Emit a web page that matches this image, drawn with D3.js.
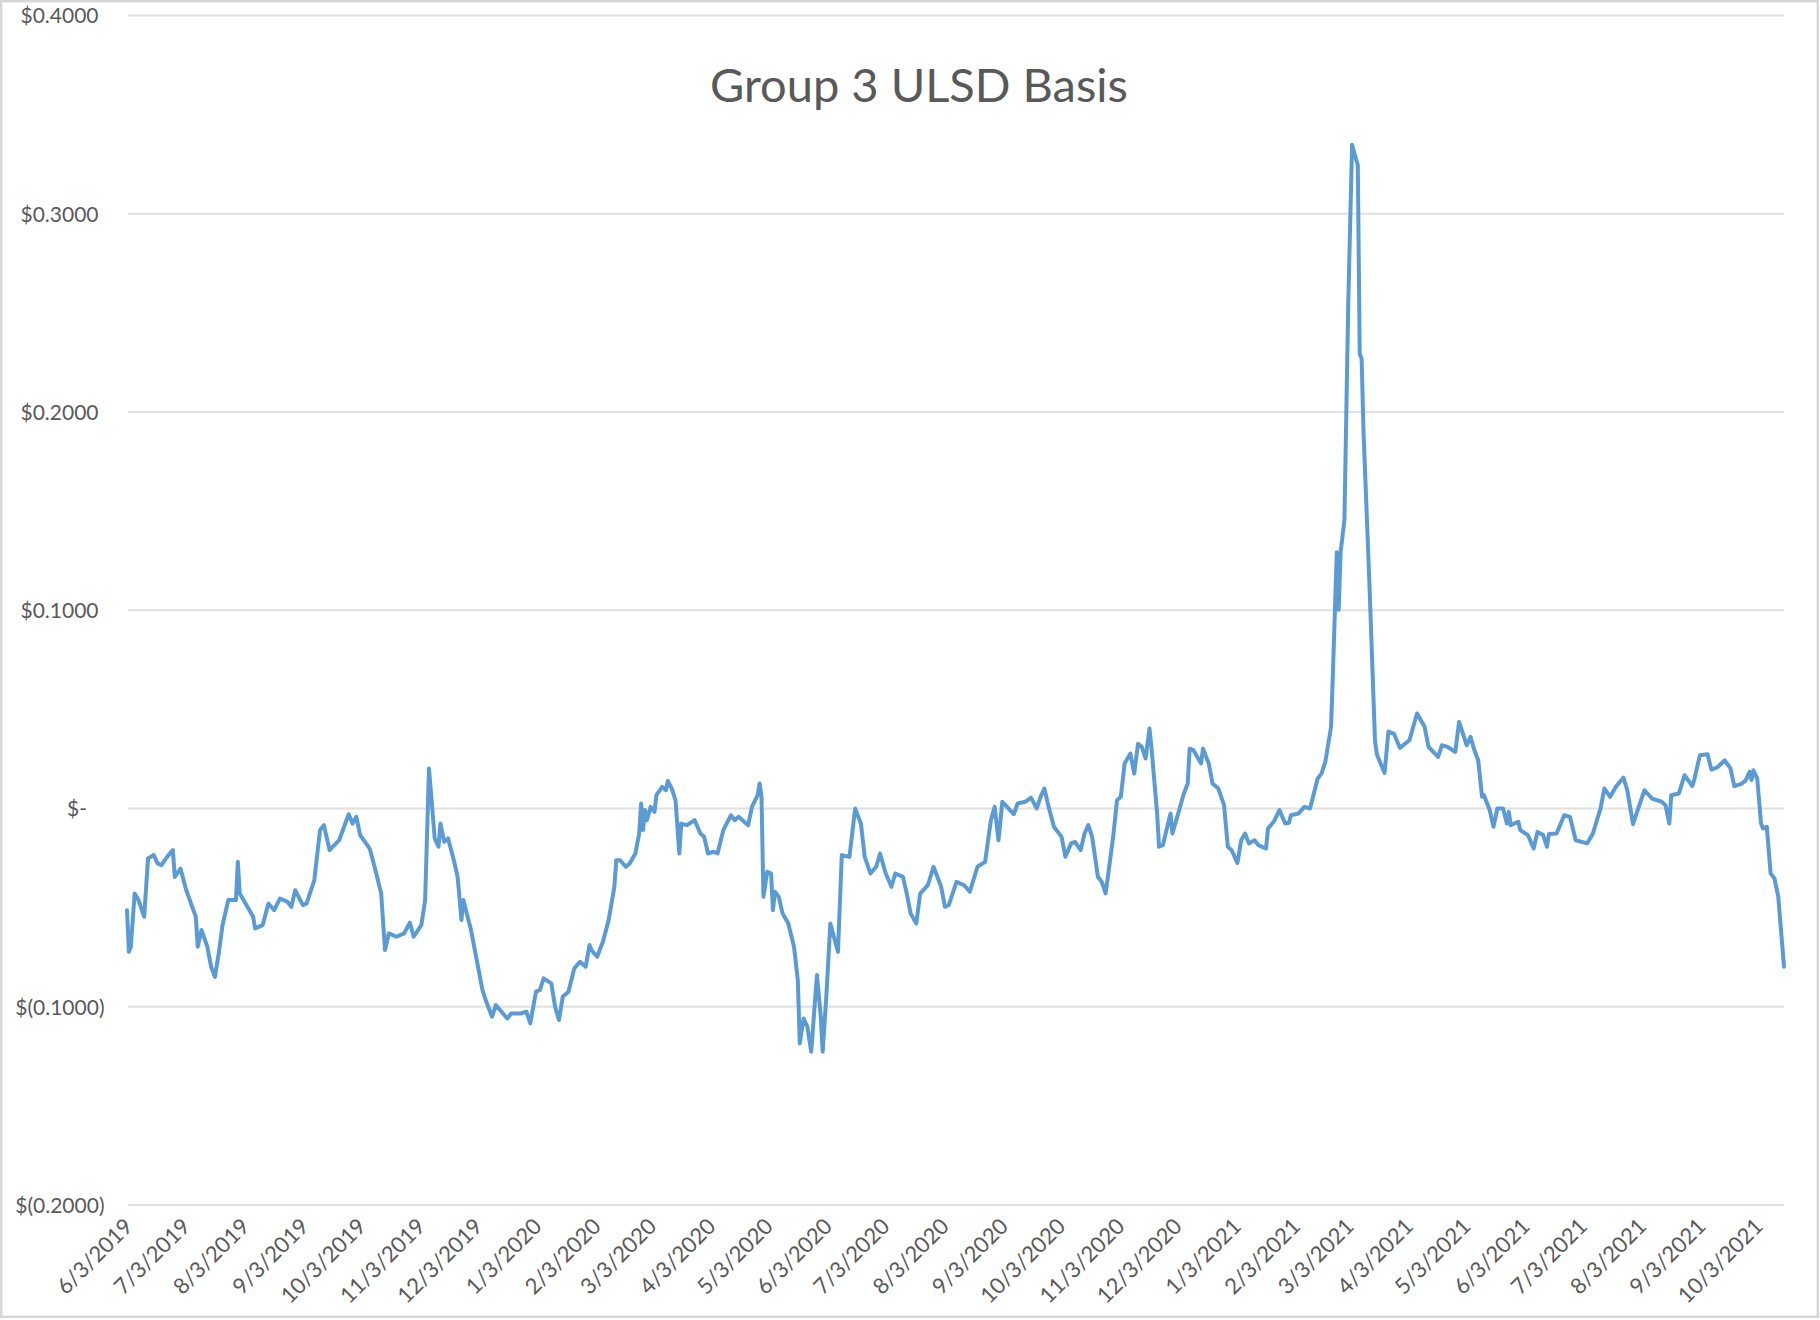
<!DOCTYPE html>
<html>
<head>
<meta charset="utf-8">
<script src="https://cdn.jsdelivr.net/npm/d3@7"></script>
<style>
    html, body { margin: 0; padding: 0; background: #ffffff; }
    .chart text { font-family: Lato, "Open Sans", sans-serif; fill: #595959; }
</style>
</head>
<body>
<div class="chart"></div>
<script>
// ---- data ----
const startDate = '6/3/2019'
// trading days, as days after 6/3/2019
const dayOffsets = [
    0, 1, 2, 4, 6, 9, 11, 14, 16, 18, 21, 24, 25, 28, 31, 36, 37, 39, 42, 44, 46, 48, 50, 53, 57, 58, 59,
    63, 66, 67, 71, 74, 77, 80, 84, 86, 88, 92, 94, 98, 101, 103, 106, 111, 116, 118, 120, 122, 127, 130,
    133, 135, 137, 141, 145, 148, 150, 154, 156, 158,
    161, 163, 164, 166, 168, 171, 173, 175, 176, 180, 183, 186, 188, 191, 193, 196, 199, 201, 206, 209,
    211, 214, 216, 218, 222, 224, 226, 228, 231, 234, 237, 240, 242, 243, 246, 249, 252, 255, 256, 258,
    261, 263, 266, 268, 269, 270, 271, 272, 274, 276, 277, 280, 282, 283, 285, 287, 289, 290, 293, 297,
    300, 302, 304, 307, 309,
    312, 316, 318, 320, 325, 327, 330, 331, 332, 333, 335, 337, 338, 339, 341, 343, 346, 349, 351, 352,
    354, 356, 358, 361, 363, 364, 366, 368, 372, 374, 378, 381, 384, 386, 389, 392, 394, 397, 400, 402,
    406, 408, 410, 413, 415, 419, 422, 426, 428, 430, 434, 438, 441, 445, 449, 452, 454, 456, 458, 462,
    464, 466, 470, 473, 476, 478,
    480, 482, 485, 489, 491, 494, 496, 499, 501, 503, 505, 508, 510, 512, 513, 516, 518, 520, 522, 525,
    527, 529, 531, 533, 535, 536, 539, 540, 542, 546, 547, 549, 553, 555, 556, 558, 562, 563, 566, 568,
    571, 574, 576, 578, 581, 583, 585, 587, 590, 592, 596, 597, 600, 603,
    606, 608, 609, 613, 616, 619, 621, 623, 625, 627, 628, 630, 631, 632, 633, 634, 635, 637, 639, 641,
    642, 644, 645, 646, 647, 650, 653, 654, 657, 658, 660, 663, 666,
    671, 675, 679, 681, 686, 688, 691, 695, 697, 699, 701, 703, 705, 707, 709, 710, 713, 715, 717, 720,
    722, 723, 724, 728, 729, 733, 736, 738, 741, 743, 744, 748, 752, 755, 758, 764, 767, 771, 773, 776,
    779, 783, 785, 788, 791, 794, 798, 803, 805, 807, 808, 812, 815, 819, 820, 823, 827, 829, 832, 836,
    839, 841, 845, 847, 849, 850, 851, 853, 855, 856, 858, 860, 862, 864, 867
]
const basisValues = [
    -0.0513, -0.0723, -0.0697, -0.0429, -0.0462, -0.0546, -0.0252, -0.0235, -0.0277, -0.0286, -0.0244, -0.0210, -0.0345, -0.0303, -0.0412, -0.0546, -0.0697, -0.0613, -0.0697, -0.0798, -0.0849, -0.0731, -0.0588, -0.0462, -0.0462, -0.0269, -0.0429,
    -0.0496, -0.0546, -0.0605, -0.0588, -0.0479, -0.0513, -0.0454, -0.0471, -0.0496, -0.0412, -0.0487, -0.0479, -0.0361, -0.0109, -0.0084, -0.0210, -0.0160, -0.0029, -0.0076, -0.0042, -0.0134, -0.0202, -0.0311,
    -0.0429, -0.0714, -0.0630, -0.0647, -0.0630, -0.0576, -0.0647, -0.0588, -0.0462, 0.0202,
    -0.0151, -0.0193, -0.0076, -0.0168, -0.0151, -0.0261, -0.0345, -0.0563, -0.0462, -0.0613, -0.0765, -0.0916, -0.0975, -0.1050, -0.0992, -0.1025, -0.1059, -0.1034, -0.1034, -0.1025,
    -0.1084, -0.0924, -0.0916, -0.0857, -0.0882, -0.1000, -0.1067, -0.0950, -0.0924, -0.0807, -0.0773, -0.0798, -0.0689, -0.0714, -0.0748, -0.0672, -0.0563, -0.0395, -0.0261, -0.0261,
    -0.0294, -0.0277, -0.0227, -0.0126, 0.0025, -0.0109, -0.0008, -0.0059, 0.0008, -0.0017, 0.0067, 0.0109, 0.0092, 0.0139, 0.0101, 0.0042, -0.0227, -0.0076, -0.0084, -0.0059,
    -0.0126, -0.0143, -0.0227, -0.0218, -0.0227,
    -0.0109, -0.0034, -0.0059, -0.0042, -0.0084, 0.0008, 0.0067, 0.0126, 0.0059, -0.0445, -0.0319, -0.0328, -0.0513, -0.0420, -0.0445, -0.0529, -0.0580, -0.0697, -0.0866, -0.1185,
    -0.1059, -0.1101, -0.1227, -0.0840, -0.1050, -0.1227, -0.0933, -0.0580, -0.0723, -0.0235, -0.0244, 0.0000, -0.0076, -0.0244, -0.0328, -0.0294, -0.0227, -0.0328, -0.0395, -0.0328,
    -0.0345, -0.0429, -0.0529, -0.0580, -0.0429, -0.0387, -0.0294, -0.0395, -0.0496, -0.0487, -0.0370, -0.0387, -0.0420, -0.0294, -0.0269, -0.0059, 0.0008, -0.0160, 0.0034, -0.0008,
    -0.0029, 0.0025, 0.0034, 0.0055, 0.0000, 0.0059,
    0.0101, 0.0017, -0.0092, -0.0143, -0.0243, -0.0176, -0.0168, -0.0210, -0.0126, -0.0084, -0.0143, -0.0344, -0.0369, -0.0428, -0.0361, -0.0143, 0.0042, 0.0059, 0.0227, 0.0277,
    0.0176, 0.0327, 0.0311, 0.0252, 0.0403, 0.0311, -0.0025, -0.0193, -0.0185, -0.0025, -0.0126, -0.0059, 0.0076, 0.0126, 0.0302, 0.0294, 0.0227, 0.0302, 0.0227, 0.0126,
    0.0101, 0.0017, -0.0193, -0.0210, -0.0274, -0.0160, -0.0126, -0.0176, -0.0160, -0.0185, -0.0202, -0.0101, -0.0067, -0.0008,
    -0.0076, -0.0072, -0.0034, -0.0025, 0.0008, 0.0000, 0.0076, 0.0151, 0.0176, 0.0235, 0.0294, 0.0411, 0.0690, 0.0991, 0.1293, 0.1003, 0.1293, 0.1456, 0.2547, 0.3348,
    0.3313, 0.3244, 0.2292, 0.2268, 0.1897, 0.1154, 0.0341, 0.0272, 0.0202, 0.0179, 0.0388, 0.0376, 0.0306,
    0.0344, 0.0479, 0.0411, 0.0311, 0.0260, 0.0319, 0.0311, 0.0285, 0.0437, 0.0378, 0.0319, 0.0361, 0.0294, 0.0243, 0.0059, 0.0067, -0.0008, -0.0092, 0.0000, 0.0000,
    -0.0076, -0.0017, -0.0084, -0.0067, -0.0109, -0.0134, -0.0202, -0.0118, -0.0134, -0.0193, -0.0129, -0.0126, -0.0034, -0.0042, -0.0160, -0.0176, -0.0126, 0.0000, 0.0101, 0.0059,
    0.0109, 0.0156, 0.0092, -0.0079, 0.0008, 0.0092, 0.0050, 0.0034, 0.0017, -0.0076, 0.0067, 0.0076, 0.0168, 0.0113, 0.0143, 0.0269, 0.0274, 0.0196, 0.0207, 0.0243,
    0.0202, 0.0113, 0.0126, 0.0143, 0.0185, 0.0143, 0.0193, 0.0151, -0.0076, -0.0101, -0.0092, -0.0327, -0.0353, -0.0445, -0.0798
]

const xTickLabels = [
    '6/3/2019', '7/3/2019', '8/3/2019', '9/3/2019', '10/3/2019', '11/3/2019', '12/3/2019',
    '1/3/2020', '2/3/2020', '3/3/2020', '4/3/2020', '5/3/2020', '6/3/2020', '7/3/2020', '8/3/2020',
    '9/3/2020', '10/3/2020', '11/3/2020', '12/3/2020', '1/3/2021', '2/3/2021', '3/3/2021', '4/3/2021',
    '5/3/2021', '6/3/2021', '7/3/2021', '8/3/2021', '9/3/2021', '10/3/2021'
]
const yTickValues = [0.4, 0.3, 0.2, 0.1, 0, -0.1, -0.2]
const yTickLabels = ['$0.4000', '$0.3000', '$0.2000', '$0.1000', '$-', '$(0.1000)', '$(0.2000)']
const chartTitle = 'Group 3 ULSD Basis'

// ---- layout ----
const dimensions = {
    width: 1820,
    height: 1320,
    plotLeft: 127,
    plotRight: 1784,
    plotTop: 15.5,
    plotBottom: 1205
}

const parseDate = d3.timeParse('%m/%d/%Y')
const fmtDate = d3.timeFormat('%-m/%-d/%Y')
const start = parseDate(startDate)

const dataset = dayOffsets.map((d, i) => ({
    date: d3.timeDay.offset(start, d),
    value: basisValues[i]
}))

const svg = d3.select('.chart').append('svg')
    .attr('width', dimensions.width)
    .attr('height', dimensions.height)

// chart area border
svg.append('rect')
    .attr('x', 1.2)
    .attr('y', 1.2)
    .attr('width', dimensions.width - 3.4)
    .attr('height', dimensions.height - 4.4)
    .attr('fill', '#ffffff')
    .attr('stroke', '#d6d6d6')
    .attr('stroke-width', 2.4)

const xScale = d3.scaleTime()
    .domain([start, dataset[dataset.length - 1].date])
    .range([dimensions.plotLeft, dimensions.plotRight])

const yScale = d3.scaleLinear()
    .domain([-0.2, 0.4])
    .range([dimensions.plotBottom, dimensions.plotTop])

/******** gridlines ********/
svg.append('g')
    .attr('class', 'grid')
    .selectAll('line')
    .data(yTickValues)
    .enter().append('line')
    .attr('x1', dimensions.plotLeft + 1)
    .attr('x2', dimensions.plotRight)
    .attr('y1', d => yScale(d))
    .attr('y2', d => yScale(d))
    .attr('stroke', '#e0e0e0')
    .attr('stroke-width', 2)

/******** y axis ********/
const yAxis = d3.axisLeft(yScale)
    .tickValues(yTickValues)
    .tickSize(0)
    .tickFormat((d, i) => yTickLabels[i])

const yG = svg.append('g')
    .call(yAxis)
yG.select('.domain').remove()
yG.selectAll('text')
    .attr('x', d => d > 0 ? 98.5 : (d < 0 ? 104.5 : 87))
    .attr('dy', '0.35em')
    .style('font-size', '21px')

/******** x axis ********/
const xAxis = d3.axisBottom(xScale)
    .tickValues(xTickLabels.map(parseDate))
    .tickSize(0)
    .tickFormat(fmtDate)

const xG = svg.append('g')
    .attr('transform', 'translate(0,' + dimensions.plotBottom + ')')
    .call(xAxis)
xG.select('.domain').remove()
xG.selectAll('.tick text')
    .attr('y', 0)
    .attr('dy', 0)
    .attr('text-anchor', 'end')
    .attr('transform', 'translate(-4,12) rotate(-45) translate(0,15)')
    .style('font-size', '22px')

/******** line ********/
const line = d3.line()
    .x(d => xScale(d.date))
    .y(d => yScale(d.value))

svg.append('path')
    .datum(dataset)
    .attr('fill', 'none')
    .attr('stroke', '#5b9bd5')
    .attr('stroke-width', 4)
    .attr('stroke-linejoin', 'round')
    .attr('stroke-linecap', 'round')
    .attr('d', line)

/******** title ********/
svg.append('text')
    .attr('x', 919)
    .attr('y', 102)
    .attr('text-anchor', 'middle')
    .style('font-size', '47px')
    .text(chartTitle)
</script>
</body>
</html>
